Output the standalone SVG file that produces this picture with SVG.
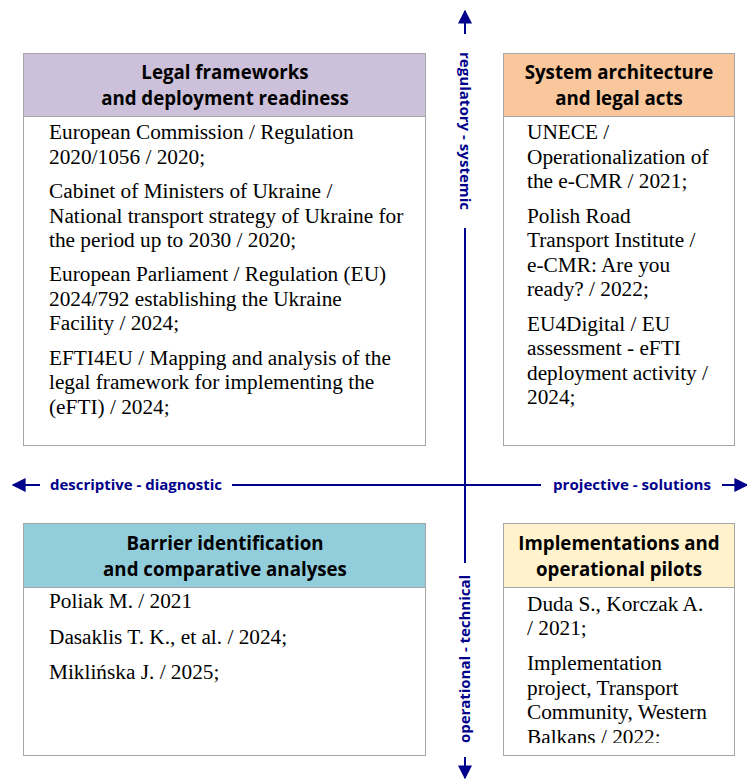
<svg xmlns="http://www.w3.org/2000/svg" width="747" height="780" viewBox="0 0 747 780">
  <style>
    .box { fill: #ffffff; stroke: #a6a6a6; stroke-width: 1; }
    .sep { stroke: #a6a6a6; stroke-width: 1; }
    .head { font-family: "Open Sans", Lato, sans-serif; font-weight: 700; font-size: 18.7px; fill: #000000; text-anchor: middle; }
    .ref { font-family: "Liberation Serif", "DejaVu Serif", "Noto Serif", serif; font-size: 21.3px; fill: #000000; }
    .axis { stroke: #00008b; stroke-width: 2; fill: none; }
    .axlabel { font-family: "Open Sans", Lato, sans-serif; font-weight: 700; font-size: 14.5px; fill: #00008b; }
  </style>
  <defs>
    <marker id="arrow" viewBox="0 0 10 10" refX="9" refY="5" markerWidth="7" markerHeight="7" orient="auto" markerUnits="strokeWidth">
      <path d="M0,0 L10,5 L0,10 Z" fill="#00008b"/>
    </marker>
    <clipPath id="clipBR">
      <rect x="503" y="588" width="232" height="155"/>
    </clipPath>
  </defs>

  <!-- axes -->
  <g id="connectors">
    <line class="axis" x1="465" y1="34" x2="465" y2="11" marker-end="url(#arrow)"/>
    <line class="axis" x1="465" y1="228" x2="465" y2="563"/>
    <line class="axis" x1="465" y1="757" x2="465" y2="778" marker-end="url(#arrow)"/>
    <line class="axis" x1="40" y1="485" x2="13" y2="485" marker-end="url(#arrow)"/>
    <line class="axis" x1="232" y1="485" x2="541" y2="485"/>
    <line class="axis" x1="722" y1="485" x2="747" y2="485" marker-end="url(#arrow)"/>
    <text class="axlabel" transform="translate(460,52) rotate(90)" textLength="158" lengthAdjust="spacingAndGlyphs">regulatory - systemic</text>
    <text class="axlabel" transform="translate(470,743) rotate(-90)" textLength="168" lengthAdjust="spacingAndGlyphs">operational - technical</text>
    <text class="axlabel" x="50" y="490" textLength="172" lengthAdjust="spacingAndGlyphs">descriptive - diagnostic</text>
    <text class="axlabel" x="553" y="490" textLength="158" lengthAdjust="spacingAndGlyphs">projective - solutions</text>
  </g>

  <!-- top-left quadrant -->
  <g id="legal-frameworks">
    <rect class="box" x="23.5" y="53.5" width="402" height="392"/>
    <rect x="24" y="54" width="401" height="62.5" fill="#ccc0da"/>
    <line class="sep" x1="23.5" y1="116.5" x2="425.5" y2="116.5"/>
    <text class="head" x="225" y="79">Legal frameworks</text>
    <text class="head" x="225" y="105">and deployment readiness</text>
    <text class="ref">
      <tspan x="49" y="139">European Commission / Regulation</tspan>
      <tspan x="49" y="163.5">2020/1056 / 2020;</tspan>
      <tspan x="49" y="198">Cabinet of Ministers of Ukraine /</tspan>
      <tspan x="49" y="222.5">National transport strategy of Ukraine for</tspan>
      <tspan x="49" y="247">the period up to 2030 / 2020;</tspan>
      <tspan x="49" y="281">European Parliament / Regulation (EU)</tspan>
      <tspan x="49" y="305.5">2024/792 establishing the Ukraine</tspan>
      <tspan x="49" y="330">Facility / 2024;</tspan>
      <tspan x="49" y="364.5">EFTI4EU / Mapping and analysis of the</tspan>
      <tspan x="49" y="389">legal framework for implementing the</tspan>
      <tspan x="49" y="413.5">(eFTI) / 2024;</tspan>
    </text>
  </g>

  <!-- top-right quadrant -->
  <g id="system-architecture">
    <rect class="box" x="503.5" y="53.5" width="231" height="392"/>
    <rect x="504" y="54" width="230" height="62.5" fill="#f9c79b"/>
    <line class="sep" x1="503.5" y1="116.5" x2="734.5" y2="116.5"/>
    <text class="head" x="619" y="79">System architecture</text>
    <text class="head" x="619" y="105">and legal acts</text>
    <text class="ref">
      <tspan x="527" y="139">UNECE /</tspan>
      <tspan x="527" y="163.5">Operationalization of</tspan>
      <tspan x="527" y="188">the e-CMR / 2021;</tspan>
      <tspan x="527" y="222.5">Polish Road</tspan>
      <tspan x="527" y="247">Transport Institute /</tspan>
      <tspan x="527" y="271.5">e-CMR: Are you</tspan>
      <tspan x="527" y="296">ready? / 2022;</tspan>
      <tspan x="527" y="330.5">EU4Digital / EU</tspan>
      <tspan x="527" y="355">assessment - eFTI</tspan>
      <tspan x="527" y="379.5">deployment activity /</tspan>
      <tspan x="527" y="404">2024;</tspan>
    </text>
  </g>

  <!-- bottom-left quadrant -->
  <g id="barrier-identification">
    <rect class="box" x="23.5" y="523.5" width="402" height="232"/>
    <rect x="24" y="524" width="401" height="63.5" fill="#92cddc"/>
    <line class="sep" x1="23.5" y1="587.5" x2="425.5" y2="587.5"/>
    <text class="head" x="225" y="550">Barrier identification</text>
    <text class="head" x="225" y="576">and comparative analyses</text>
    <text class="ref">
      <tspan x="49" y="608">Poliak M. / 2021</tspan>
      <tspan x="49" y="643.5">Dasaklis T. K., et al. / 2024;</tspan>
      <tspan x="49" y="679">Miklińska J. / 2025;</tspan>
    </text>
  </g>

  <!-- bottom-right quadrant -->
  <g id="implementations">
    <rect class="box" x="503.5" y="523.5" width="231" height="232"/>
    <rect x="504" y="524" width="230" height="63.5" fill="#fff2cc"/>
    <line class="sep" x1="503.5" y1="587.5" x2="734.5" y2="587.5"/>
    <text class="head" x="619" y="550">Implementations and</text>
    <text class="head" x="619" y="576">operational pilots</text>
    <text class="ref" clip-path="url(#clipBR)">
      <tspan x="527" y="610.5">Duda S., Korczak A.</tspan>
      <tspan x="527" y="635">/ 2021;</tspan>
      <tspan x="527" y="670">Implementation</tspan>
      <tspan x="527" y="694.5">project, Transport</tspan>
      <tspan x="527" y="719">Community, Western</tspan>
      <tspan x="527" y="744">Balkans / 2022;</tspan>
    </text>
  </g>
</svg>
